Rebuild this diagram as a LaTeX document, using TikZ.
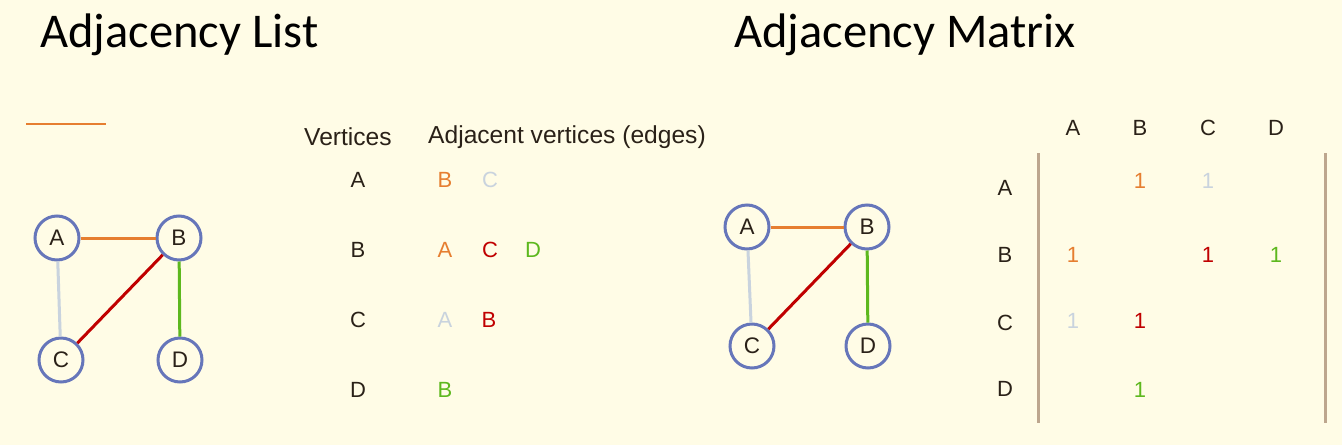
\documentclass[tikz,border=0pt]{standalone}
\usepackage{fontspec}
\setmainfont{Liberation Sans}
\newfontfamily\titlefont{Carlito}
\usetikzlibrary{positioning}
\definecolor{paper}{HTML}{FFFCE6}
\definecolor{ink}{HTML}{2A2118}
\definecolor{edgeab}{HTML}{E67E30}
\definecolor{edgeac}{HTML}{C9D3DE}
\definecolor{edgebc}{HTML}{C00000}
\definecolor{edgebd}{HTML}{5DB81E}
\definecolor{ring}{HTML}{6676BA}
\definecolor{bar}{HTML}{BDA68E}

\begin{document}
\begin{tikzpicture}[x=1pt,y=-1pt,
  vert/.style={circle,draw=ring,line width=3pt,minimum size=44pt,inner sep=0pt,text=ink,font=\fontsize{22.5}{26}\selectfont},
  lbl/.style={text=ink,font=\fontsize{22}{26}\selectfont,inner sep=0pt},
  head/.style={text=ink,font=\fontsize{24.6}{28}\selectfont,inner sep=0pt},
  ttl/.style={anchor=base west,inner sep=0pt,font=\titlefont\fontsize{48.5}{52}\selectfont},
  wire/.style={line width=3pt}]
\fill[paper] (0,0) rectangle (1342,445);
\useasboundingbox (0,0) rectangle (1342,445);
% titles
\node[ttl] (listtitle) at (40,47) {Adjacency List};
\node[ttl] (mattitle) at (734,47) {Adjacency Matrix};
\draw[edgeab,line width=1.2pt] (26,124)--(106,124);
% graph on the left
\node[vert] (a1) at (57,238) {A};
\node[vert] (b1) at (179,238) {B};
\node[vert] (c1) at (61,360) {C};
\node[vert] (d1) at (180,360) {D};
\draw[wire,edgeab] (a1)--(b1);
\draw[wire,edgeac] (a1)--(c1);
\draw[wire,edgebc] (b1)--(c1);
\draw[wire,edgebd] (b1)--(d1);
% list
\node[head,anchor=west] (vtitle) at (304,137) {Vertices};
\node[head,anchor=west] (etitle) at (428,137) {Adjacent vertices (edges)};
\node[lbl] (ra) at (358,180) {A};
\node[lbl] (rb) at (358,250) {B};
\node[lbl] (rc) at (358,320) {C};
\node[lbl] (rd) at (358,390) {D};
\node[lbl,text=edgeab] (ab) at (445,180) {B};
\node[lbl,text=edgeac] (ac) at (490,180) {C};
\node[lbl,text=edgeab] (ba) at (445,250) {A};
\node[lbl,text=edgebc] (bc) at (490,250) {C};
\node[lbl,text=edgebd] (bd) at (533,250) {D};
\node[lbl,text=edgeac] (ca) at (445,320) {A};
\node[lbl,text=edgebc] (cb) at (489,320) {B};
\node[lbl,text=edgebd] (db) at (445,390) {B};
% graph on the right
\node[vert] (a2) at (747,227) {A};
\node[vert] (b2) at (867,227) {B};
\node[vert] (c2) at (752,346) {C};
\node[vert] (d2) at (868,346) {D};
\draw[wire,edgeab] (a2)--(b2);
\draw[wire,edgeac] (a2)--(c2);
\draw[wire,edgebc] (b2)--(c2);
\draw[wire,edgebd] (b2)--(d2);
% matrix
\node[lbl] (ca) at (1073,128) {A};
\node[lbl] (cb) at (1140,128) {B};
\node[lbl] (cc) at (1208,128) {C};
\node[lbl] (cd) at (1276,128) {D};
\node[lbl] (la) at (1005,188) {A};
\node[lbl] (lb) at (1005,255) {B};
\node[lbl] (lc) at (1005,323) {C};
\node[lbl] (ld) at (1005,389) {D};
\draw[bar,line width=3pt] (1038,153)--(1038,423);
\draw[bar,line width=3pt] (1325,153)--(1325,423);
\node[lbl,text=edgeab] (mab) at (1140,181) {1};
\node[lbl,text=edgeac] (mac) at (1208,181) {1};
\node[lbl,text=edgeab] (mba) at (1073,255) {1};
\node[lbl,text=edgebc] (mbc) at (1208,255) {1};
\node[lbl,text=edgebd] (mbd) at (1276,255) {1};
\node[lbl,text=edgeac] (mca) at (1073,321) {1};
\node[lbl,text=edgebc] (mcb) at (1140,321) {1};
\node[lbl,text=edgebd] (mdb) at (1140,390) {1};
\end{tikzpicture}
\end{document}
